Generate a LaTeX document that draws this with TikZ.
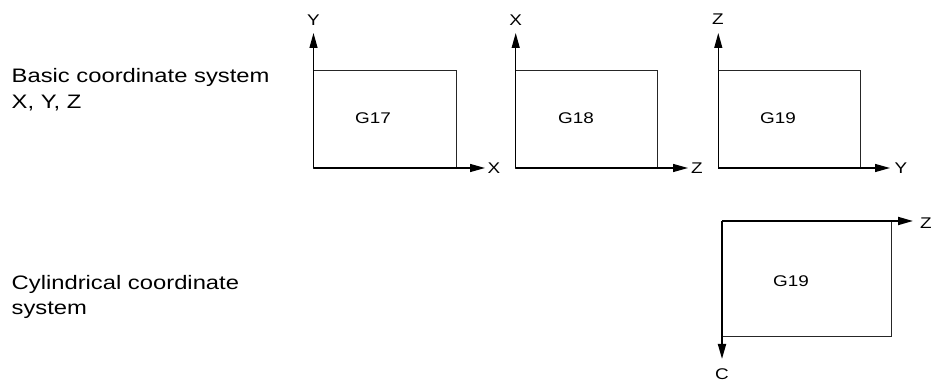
\documentclass[tikz,border=0pt]{standalone}
\usepackage{fontspec}
\setmainfont{Liberation Sans}[FakeStretch=1.22]
\usetikzlibrary{arrows.meta}
\begin{document}
\begin{tikzpicture}[x=1pt,y=1pt,
  boxline/.style={draw=black!85,line width=0.8pt},
  axis/.style={draw=black,line width=1.2pt,-{Triangle[length=15pt,width=8pt]}},
  axisthick/.style={draw=black,line width=1.8pt,-{Triangle[length=15pt,width=8pt]}},
  big/.style={inner sep=0pt,anchor=base west,font=\fontsize{19.5}{25}\selectfont},
  lab/.style={inner sep=0pt,font=\fontsize{15.5}{18}\selectfont}]
\useasboundingbox (0,0) rectangle (935,383);
% texts on the left
\node[big] (t1) at (11.5,300.7) {Basic coordinate system};
\node[big] (t2) at (11.5,274.5) {X, Y, Z};
\node[big] (t3) at (11.5,93) {Cylindrical coordinate};
\node[big] (t4) at (11.5,68) {system};
% G17
\coordinate (o1) at (313.5,215);
\coordinate (c1) at (456,313);
\coordinate (y1) at (313.5,350);
\coordinate (x1) at (485,215);
\draw[boxline] (o1) rectangle (c1);
\draw[axis] (o1) -- (y1);
\draw[axis] (o1) -- (x1);
\node[lab] (g17) at (373,265) {G17};
\node[lab] (ly1) at (313.5,362.5) {Y};
\node[lab] (lx1) at (494,215) {X};
% G18
\coordinate (o2) at (515.7,215);
\coordinate (c2) at (657.7,313);
\coordinate (y2) at (515.7,350);
\coordinate (x2) at (688,215);
\draw[boxline] (o2) rectangle (c2);
\draw[axis] (o2) -- (y2);
\draw[axis] (o2) -- (x2);
\node[lab] (g18) at (576,265) {G18};
\node[lab] (ly2) at (515.7,362.5) {X};
\node[lab] (lx2) at (697,215) {Z};
% G19
\coordinate (o3) at (718.3,215);
\coordinate (c3) at (860.3,313);
\coordinate (y3) at (718.3,350);
\coordinate (x3) at (890,215);
\draw[boxline] (o3) rectangle (c3);
\draw[axis] (o3) -- (y3);
\draw[axis] (o3) -- (x3);
\node[lab] (g19) at (778,265) {G19};
\node[lab] (ly3) at (718,363.5) {Z};
\node[lab] (lx3) at (901,215) {Y};
% cylindrical G19
\coordinate (o4) at (722,162);
\coordinate (c4) at (891,47);
\coordinate (z4) at (913,162);
\coordinate (cc4) at (722,24);
\draw[boxline] (o4) rectangle (c4);
\draw[axisthick] (o4) -- (z4);
\draw[axisthick] (o4) -- (cc4);
\node[lab] (g19c) at (791,102) {G19};
\node[lab] (lz4) at (926,160) {Z};
\node[lab] (lc4) at (722,8.5) {C};
\end{tikzpicture}
\end{document}
